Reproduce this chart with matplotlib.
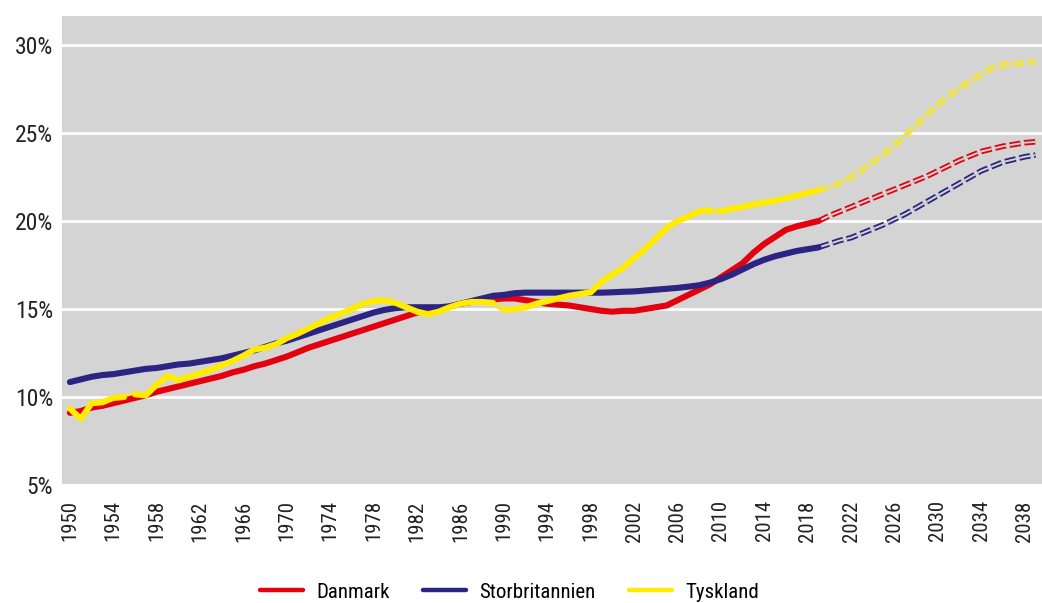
"""Ageing share chart: Danmark, Storbritannien, Tyskland 1950-2039."""

import matplotlib
matplotlib.use("Agg")
import matplotlib.pyplot as plt
from matplotlib.ticker import FuncFormatter, MultipleLocator

NARROW = ["Roboto Condensed", "Liberation Sans Narrow", "Liberation Sans", "DejaVu Sans"]
plt.rcParams["font.family"] = NARROW
plt.rcParams["lines.scale_dashes"] = False

# observed years and values (%)
years = list(range(1950, 2020))
danmark = [
    9.1, 9.2, 9.4, 9.5, 9.65, 9.8, 9.95, 10.1, 10.3, 10.45,
    10.6, 10.75, 10.9, 11.05, 11.2, 11.4, 11.55, 11.75, 11.9, 12.1,
    12.3, 12.55, 12.8, 13.0, 13.2, 13.4, 13.6, 13.8, 14.0, 14.2,
    14.4, 14.6, 14.8, 14.9, 15.0, 15.15, 15.3, 15.4, 15.5, 15.55,
    15.6, 15.6, 15.5, 15.4, 15.3, 15.25, 15.2, 15.1, 15.0, 14.9,
    14.85, 14.9, 14.9, 15.0, 15.1, 15.2, 15.5, 15.8, 16.1, 16.4,
    16.8, 17.2, 17.6, 18.2, 18.7, 19.1, 19.5, 19.7, 19.85, 20.0,
]
storbritannien = [
    10.85, 11.0, 11.15, 11.25, 11.3, 11.4, 11.5, 11.6, 11.65, 11.75,
    11.85, 11.9, 12.0, 12.1, 12.2, 12.35, 12.5, 12.65, 12.85, 13.05,
    13.2, 13.4, 13.6, 13.8, 14.0, 14.2, 14.4, 14.6, 14.8, 14.95,
    15.05, 15.1, 15.1, 15.1, 15.1, 15.15, 15.3, 15.45, 15.6, 15.75,
    15.8, 15.9, 15.93, 15.93, 15.93, 15.93, 15.93, 15.93, 15.93, 15.93,
    15.95, 15.98, 16.0, 16.05, 16.1, 16.15, 16.2, 16.27, 16.35, 16.5,
    16.7, 16.95, 17.25, 17.55, 17.8, 18.0, 18.15, 18.3, 18.4, 18.5,
]
tyskland = [
    9.35, 8.75, 9.65, 9.7, 9.95, 10.0, 10.15, 10.1, 10.7, 11.2,
    10.95, 11.15, 11.35, 11.55, 11.8, 12.05, 12.35, 12.7, 12.8, 13.0,
    13.35, 13.6, 13.9, 14.2, 14.5, 14.75, 15.0, 15.3, 15.45, 15.5,
    15.35, 15.1, 14.85, 14.7, 14.85, 15.1, 15.3, 15.4, 15.4, 15.35,
    14.95, 15.0, 15.1, 15.3, 15.45, 15.6, 15.75, 15.85, 15.95, 16.55,
    16.95, 17.35, 17.9, 18.4, 19.0, 19.6, 20.0, 20.25, 20.55, 20.6,
    20.55, 20.7, 20.8, 20.95, 21.05, 21.15, 21.3, 21.45, 21.6, 21.75,
]
# years where the segment to the next year is drawn dashed in the source
tyskland_gaps = [1955, 1989, 2009]

# projections
proj_years = list(range(2019, 2040))
danmark_proj = [
    20.0, 20.3, 20.55, 20.8, 21.05, 21.3, 21.55, 21.8, 22.05, 22.3,
    22.55, 22.85, 23.15, 23.45, 23.7, 23.95, 24.1, 24.25, 24.35, 24.45, 24.5,
]
storbritannien_proj = [
    18.5, 18.7, 18.9, 19.05, 19.3, 19.55, 19.8, 20.1, 20.4, 20.75,
    21.1, 21.45, 21.8, 22.15, 22.5, 22.85, 23.1, 23.35, 23.5, 23.65, 23.75,
]
tyskland_proj = [
    21.75, 21.95, 22.15, 22.5, 22.9, 23.35, 23.8, 24.3, 24.85, 25.45,
    26.05, 26.6, 27.1, 27.55, 27.95, 28.35, 28.7, 28.85, 28.95, 29.0, 29.05,
]

labels = ["Danmark", "Storbritannien", "Tyskland"]
colors = ["#E3000F", "#2C2483", "#FFEC00"]
BG = "#D4D4D4"
LW = 4.4


def double_dashed(ax, x, y, color):
    # Excel-style double compound dashed line: thick dash, thin background stripe
    dash = (0, (8.0, 2.6))
    ax.plot(x, y, color=color, lw=4.0, linestyle=dash, dash_capstyle="butt", zorder=3)
    ax.plot(x, y, color=BG, lw=1.4, linestyle=dash, dash_capstyle="butt", zorder=3.1)


def main() -> None:
    fig = plt.figure(figsize=(10.42, 6.03), dpi=100)
    ax = fig.add_axes([62 / 1042, 1 - 485 / 603, 980 / 1042, 469 / 603])
    ax.set_facecolor(BG)

    series = [danmark, storbritannien, tyskland]
    projections = [danmark_proj, storbritannien_proj, tyskland_proj]
    for label, values, proj, color in zip(labels, series, projections, colors):
        if label == "Tyskland":
            starts = [years[0]] + [g + 1 for g in tyskland_gaps]
            ends = tyskland_gaps + [years[-1]]
            for s, e in zip(starts, ends):
                i0, i1 = years.index(s), years.index(e) + 1
                ax.plot(years[i0:i1], values[i0:i1], color=color, lw=LW,
                        solid_capstyle="round", solid_joinstyle="round", zorder=4)
            for g in tyskland_gaps:
                i = years.index(g)
                double_dashed(ax, years[i:i + 2], values[i:i + 2], color)
        else:
            ax.plot(years, values, color=color, lw=LW,
                    solid_capstyle="round", solid_joinstyle="round", zorder=4)
        double_dashed(ax, proj_years, proj, color)
        ax.plot([], [], color=color, lw=3.2, solid_capstyle="round", label=label)

    ax.set_xlim(1949.27, 2039.6)
    ax.set_ylim(5, 31.65)
    ax.set_xticks(list(range(1950, 2039, 4)))
    ax.yaxis.set_major_locator(MultipleLocator(5))
    ax.yaxis.set_major_formatter(FuncFormatter(lambda v, _: f"{v:.0f}%"))
    ax.tick_params(axis="x", labelrotation=90, labelsize=15, length=0, pad=11, colors="#222222")
    ax.tick_params(axis="y", labelsize=17, length=0, pad=6.5, colors="#222222")
    ax.grid(axis="y", color="white", lw=2)
    ax.set_axisbelow(True)
    for spine in ax.spines.values():
        spine.set_visible(False)

    fig.legend(loc="center", bbox_to_anchor=(0.489, 0.018), ncol=3, frameon=False,
               fontsize=15, handlelength=2.05, handletextpad=0.62, columnspacing=1.63)

    fig.savefig("out.png", dpi=100)
    plt.close(fig)


if __name__ == "__main__":
    main()
